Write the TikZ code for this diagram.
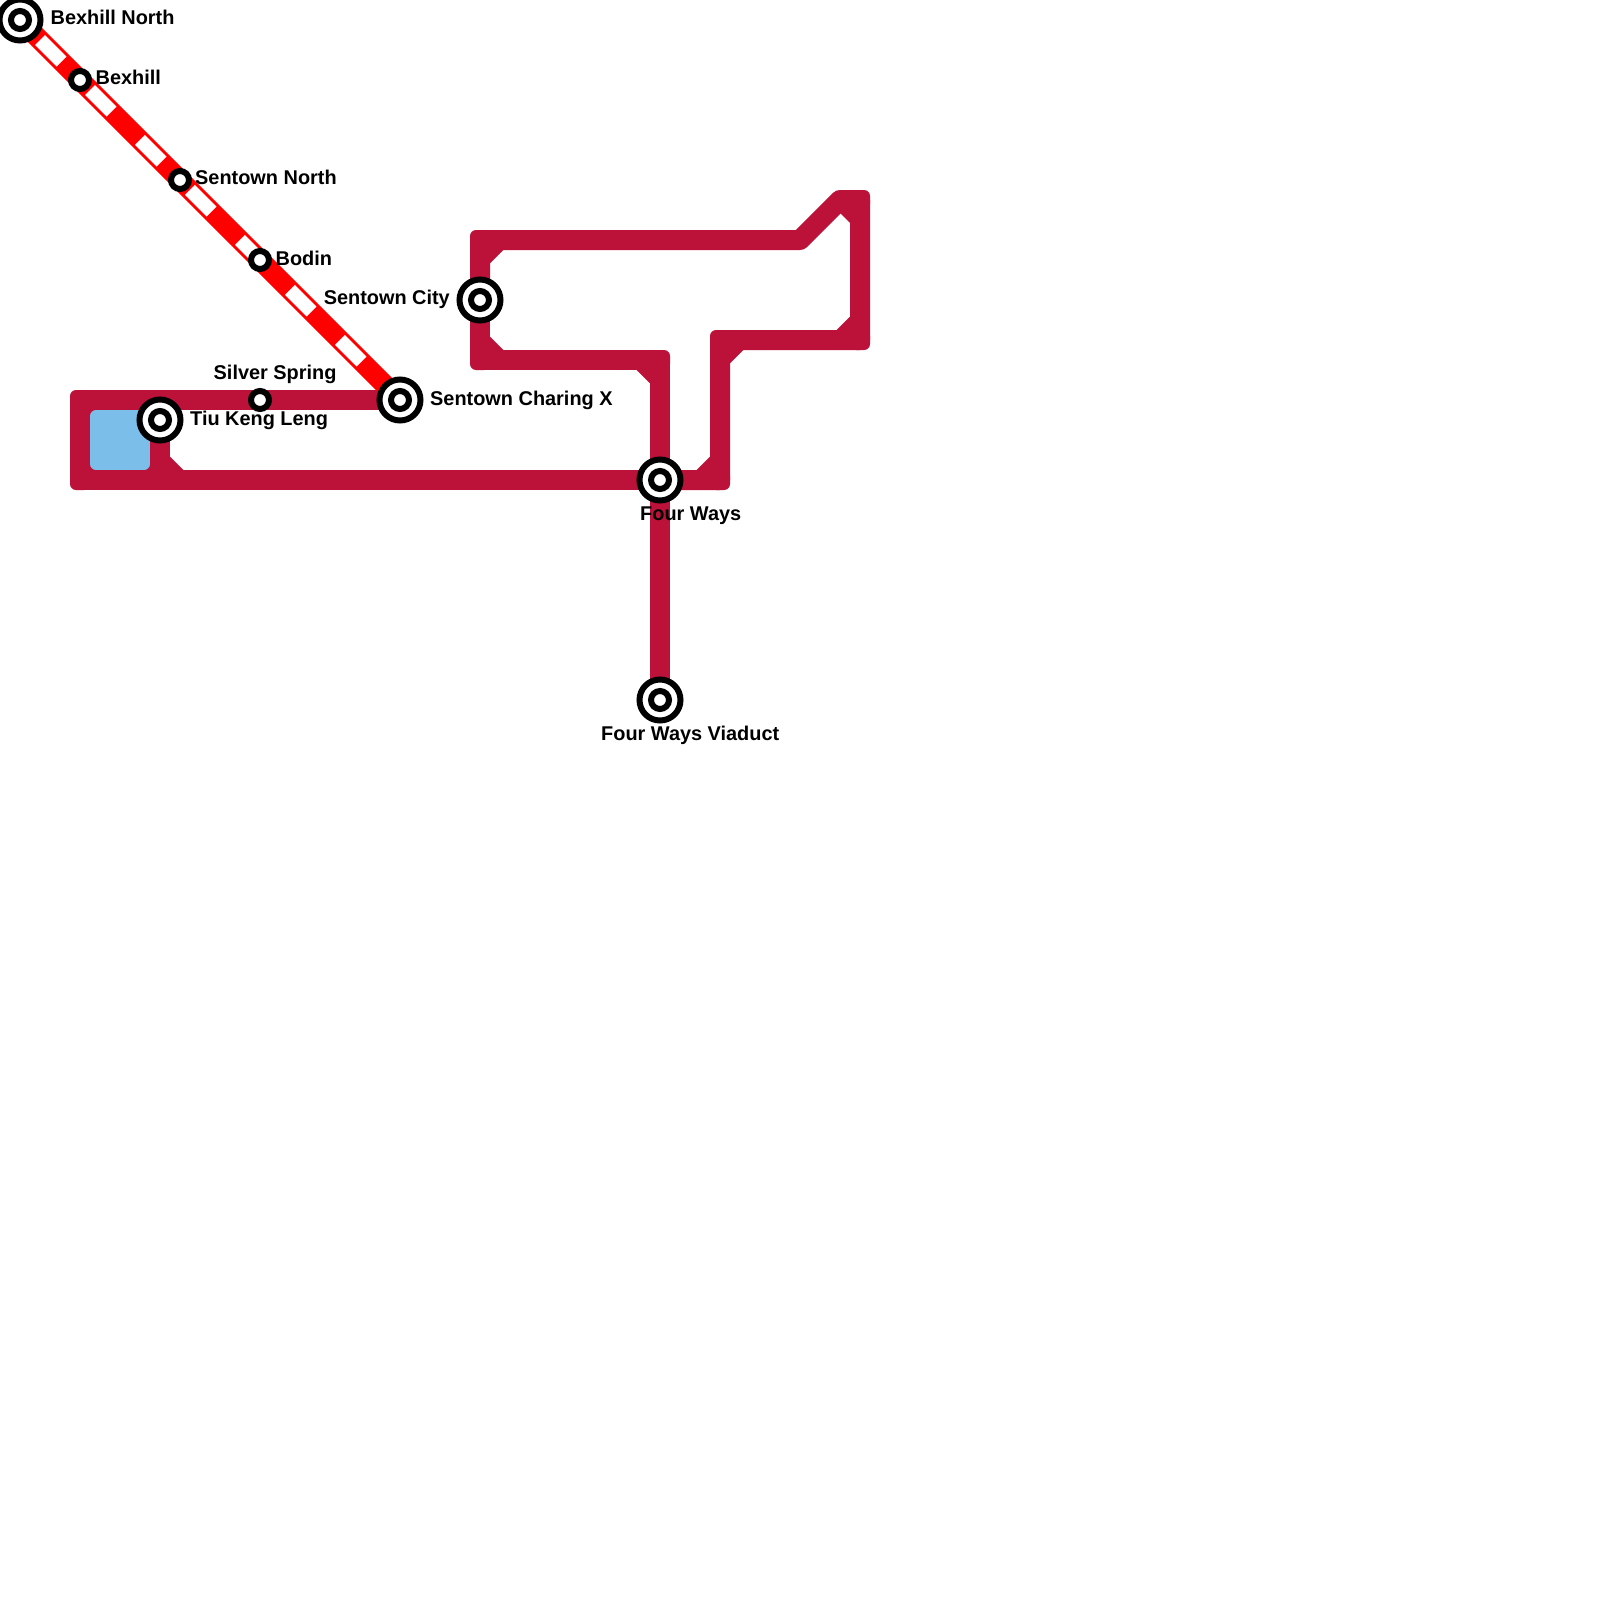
\documentclass[tikz,border=0pt]{standalone}
\usepackage{fontspec}
\setmainfont{Liberation Sans}
\usetikzlibrary{backgrounds}
\definecolor{lineA}{HTML}{BC1239}
\definecolor{lineB}{HTML}{FF0000}
\definecolor{lakeC}{HTML}{7BBEEA}
\tikzset{
  x=1pt,y=-1pt,
  stationlabel/.style={font=\bfseries\fontsize{19.9}{24}\selectfont,text=black,inner sep=0pt,anchor=base west},
  stop/.style={circle,draw=black,fill=white,line width=6pt,minimum size=18pt,inner sep=0pt},
  hubring/.style={circle,draw=black,fill=white,line width=6pt,minimum size=41pt,inner sep=0pt},
  mainline/.style={draw=lineA,line width=20pt,line join=round,line cap=butt},
  redline/.style={draw=lineB,line width=20pt,line cap=butt},
  reddash/.style={draw=white,line width=14pt,line cap=butt,dash pattern=on 30.5pt off 40.2pt,dash phase=42.4pt},
}
% rounded outer corner of a bend, with its inner chamfer
\newcommand{\bendcorner}[4]{%
  \fill[lineA,rounded corners=6pt] (#1-10,#2-10) -- (#1+10,#2-10) -- (#1+10,#2+10) -- (#1-10,#2+10) -- cycle;
  \fill[lineA] (#1+#3*10,#2+#4*10) -- (#1+#3*10,#2+#4*23.3) -- (#1+#3*23.3,#2+#4*10) -- cycle;
}
\begin{document}
\begin{tikzpicture}
\useasboundingbox (0,0) rectangle (1600,1600);

% waypoints
\coordinate (wA) at (80,400);
\coordinate (wB) at (80,480);
\coordinate (wC) at (160,480);
\coordinate (wD) at (480,240);
\coordinate (wE) at (800,240);
\coordinate (wF) at (840,200);
\coordinate (wG) at (860,200);
\coordinate (wH) at (860,340);
\coordinate (wI) at (720,340);
\coordinate (wJ) at (720,480);
\coordinate (wK) at (480,360);
\coordinate (wL) at (660,360);

% stations
\node[hubring] (bexhillNorthRing) at (20,20) {};
\node[stop] (bexhillNorth) at (20,20) {};
\node[stop] (bexhill) at (80,80) {};
\node[stop] (sentownNorth) at (180,180) {};
\node[stop] (bodin) at (260,260) {};
\node[hubring] (charingRing) at (400,400) {};
\node[stop] (charing) at (400,400) {};
\node[stop] (silverSpring) at (260,400) {};
\node[hubring] (tiuRing) at (160,420) {};
\node[stop] (tiu) at (160,420) {};
\node[hubring] (cityRing) at (480,300) {};
\node[stop] (city) at (480,300) {};
\node[hubring] (fourWaysRing) at (660,480) {};
\node[stop] (fourWays) at (660,480) {};
\node[hubring] (viaductRing) at (660,700) {};
\node[stop] (viaduct) at (660,700) {};

\begin{scope}[on background layer]
  \fill[lineA] (85,405) rectangle (155,475);
  \fill[lakeC,rounded corners=6pt] (90,410) -- (150,410) -- (150,470) -- (90,470) -- cycle;
  \path[mainline] (charing.center) -- (silverSpring.center) -- (wA) -- (wB) -- (wC) -- (fourWays.center);
  \path[mainline] (tiu.center) -- (wC);
  \path[mainline] (city.center) -- (wD) -- (wE) -- (wF) -- (wG) -- (wH) -- (wI) -- (wJ) -- (fourWays.center);
  \path[mainline] (city.center) -- (wK) -- (wL) -- (fourWays.center);
  \path[mainline] (fourWays.center) -- (viaduct.center);
  \bendcorner{480}{240}{1}{1}
  \bendcorner{480}{360}{1}{-1}
  \bendcorner{660}{360}{-1}{1}
  \bendcorner{860}{340}{-1}{-1}
  \bendcorner{720}{340}{1}{1}
  \bendcorner{720}{480}{-1}{-1}
  \fill[lineA] (170,470) -- (170,456.7) -- (183.3,470) -- cycle;
  \fill[lineA,rounded corners=6pt] (70,390) -- (90,390) -- (90,410) -- (70,410) -- cycle;
  \fill[lineA,rounded corners=6pt] (70,470) -- (90,470) -- (90,490) -- (70,490) -- cycle;
  \fill[lineA,rounded corners=6pt] (850,190) -- (870,190) -- (870,210) -- (850,210) -- cycle;
  \fill[lineA] (840,213) -- (850,223) -- (850,205) -- (840,205) -- cycle;
  \path[redline] (bexhillNorth.center) -- (charing.center);
  \path[reddash] (bexhillNorth.center) -- (charing.center);
\end{scope}

% labels
\node[stationlabel] (lBexhillNorth) at (50.5,25) {Bexhill North};
\node[stationlabel] (lBexhill) at (95.5,85) {Bexhill};
\node[stationlabel] (lSentownNorth) at (195,184.5) {Sentown North};
\node[stationlabel] (lBodin) at (275.5,265) {Bodin};
\node[stationlabel] (lSilver) at (213.5,379) {Silver Spring};
\node[stationlabel] (lTiu) at (190,425) {Tiu Keng Leng};
\node[stationlabel] (lCharing) at (430,405) {Sentown Charing X};
\node[stationlabel,anchor=base east] (lCity) at (450,304.5) {Sentown City};
\node[stationlabel] (lFourWays) at (640,520) {Four Ways};
\node[stationlabel] (lViaduct) at (601,740) {Four Ways Viaduct};
\end{tikzpicture}
\end{document}
